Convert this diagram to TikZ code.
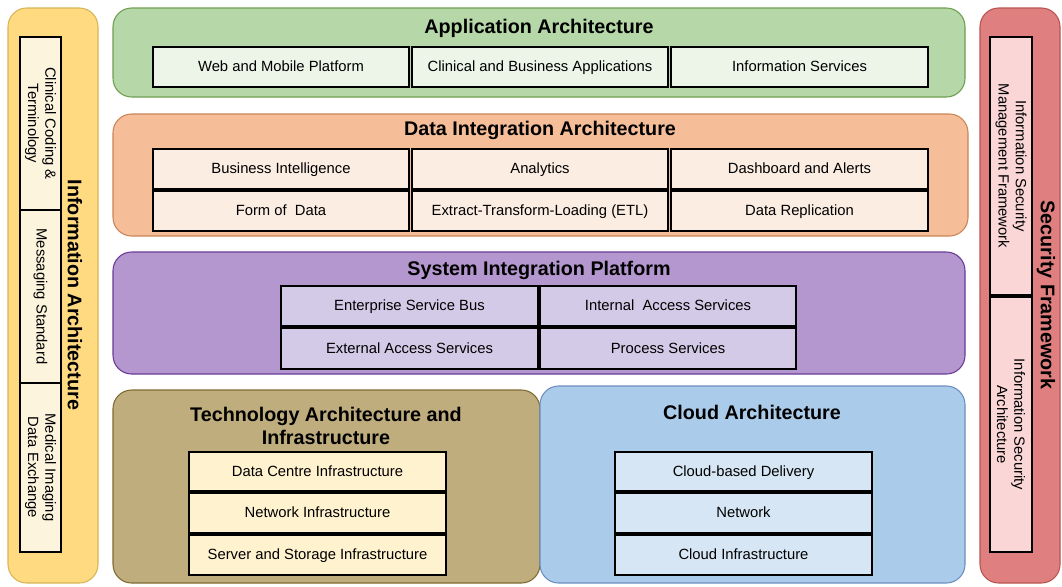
\documentclass[tikz,border=0pt]{standalone}
\usepackage{fontspec}
\setmainfont{Liberation Sans}
\definecolor{gfill}{HTML}{B6D7A8}\definecolor{gline}{HTML}{6E9E50}\definecolor{gin}{HTML}{EDF5E9}
\definecolor{ofill}{HTML}{F5BE98}\definecolor{oline}{HTML}{C98458}\definecolor{oin}{HTML}{FCEDE3}
\definecolor{pfill}{HTML}{B497CF}\definecolor{pline}{HTML}{6A3A96}\definecolor{pin}{HTML}{D2CAE6}
\definecolor{tfill}{HTML}{BFAD7E}\definecolor{tline}{HTML}{7F6A30}\definecolor{tin}{HTML}{FFF2CF}
\definecolor{cfill}{HTML}{AACBE9}\definecolor{cline}{HTML}{6C8EBF}\definecolor{cin}{HTML}{D6E6F4}
\definecolor{yfill}{HTML}{FFDA80}\definecolor{yline}{HTML}{D6B656}\definecolor{yin}{HTML}{FDF4DE}
\definecolor{rfill}{HTML}{E07F7F}\definecolor{rline}{HTML}{B85450}\definecolor{rin}{HTML}{FAD6D6}
\newcommand{\pbox}[7]{%
  \node[#6, minimum width={(#4-#2)*0.75pt}, minimum height={(#5-#3)*0.75pt}]
    (#1) at ({(#2+#4)/2},{(#3+#5)/2}) {#7};}
\tikzset{
  outer/.style={draw, line width=0.8pt, rounded corners=14pt, inner sep=0pt, outer sep=0pt},
  inner/.style={draw=black, line width=1.3pt, inner sep=0pt, outer sep=0pt, font=\fontsize{11.1}{13}\selectfont, align=center},
  one/.style={inner, text height=0.7em, text depth=0em},
  rot/.style={inner, draw=none, fill=none, rotate=-90},
  title/.style={font=\fontsize{14.8}{17.5}\selectfont\bfseries, align=center, inner sep=0pt},
}
\begin{document}
\begin{tikzpicture}[x=0.75pt,y=-0.75pt]
\useasboundingbox (0,0) rectangle (1062,586);
% outer containers
\pbox{app}{113}{8}{965}{97}{outer, draw=gline, fill=gfill}{}
\pbox{dat}{113}{114}{968}{236}{outer, draw=oline, fill=ofill}{}
\pbox{sys}{113}{252}{965}{374}{outer, draw=pline, fill=pfill}{}
\pbox{tec}{113}{390}{540}{583}{outer, draw=tline, fill=tfill}{}
\pbox{clo}{540}{386}{965}{583}{outer, draw=cline, fill=cfill}{}
\pbox{inf}{8}{8}{98}{583}{outer, draw=yline, fill=yfill}{}
\pbox{sec}{980}{8}{1060}{583}{outer, draw=rline, fill=rfill}{}
% titles
\node[title] (appT) at (539,28) {Application Architecture};
\node[title] (datT) at (540,130) {Data Integration Architecture};
\node[title] (sysT) at (539,270) {System Integration Platform};
\node[title] (tecT) at (326,426) {Technology Architecture and\\Infrastructure};
\node[title] (cloT) at (752,412) {Cloud Architecture};
\node[title, rotate=-90] (infT) at (75,295) {Information Architecture};
\node[title, rotate=-90] (secT) at (1046,295) {Security Framework};
% application
\pbox{a1}{153}{47}{409}{87}{one, fill=gin}{Web and Mobile Platform}
\pbox{a2}{412}{47}{668}{87}{one, fill=gin}{Clinical and Business Applications}
\pbox{a3}{671}{47}{928}{87}{one, fill=gin}{Information Services}
% data integration
\pbox{d1}{153}{149}{409}{189}{one, fill=oin}{Business Intelligence}
\pbox{d2}{412}{149}{668}{189}{one, fill=oin}{Analytics}
\pbox{d3}{671}{149}{928}{189}{one, fill=oin}{Dashboard and Alerts}
\pbox{d4}{153}{191}{409}{231}{one, fill=oin}{Form of~ Data}
\pbox{d5}{412}{191}{668}{231}{one, fill=oin}{Extract-Transform-Loading (ETL)}
\pbox{d6}{671}{191}{928}{231}{one, fill=oin}{Data Replication}
% system integration
\pbox{s1}{281}{286}{538}{326}{one, fill=pin}{Enterprise Service Bus}
\pbox{s2}{540}{286}{796}{326}{one, fill=pin}{Internal~ Access Services}
\pbox{s3}{281}{328}{538}{369}{one, fill=pin}{External Access Services}
\pbox{s4}{540}{328}{796}{369}{one, fill=pin}{Process Services}
% technology
\pbox{t1}{189}{452}{446}{491}{one, fill=tin}{Data Centre Infrastructure}
\pbox{t2}{189}{493}{446}{533}{one, fill=tin}{Network Infrastructure}
\pbox{t3}{189}{535}{446}{575}{one, fill=tin}{Server and Storage Infrastructure}
% cloud
\pbox{c1}{615}{452}{872}{491}{one, fill=cin}{Cloud-based Delivery}
\pbox{c2}{615}{493}{872}{533}{one, fill=cin}{Network}
\pbox{c3}{615}{535}{872}{575}{one, fill=cin}{Cloud Infrastructure}
% information architecture boxes
\pbox{i1}{20}{37}{61}{210}{inner, fill=yin}{}
\pbox{i2}{20}{210}{61}{383}{inner, fill=yin}{}
\pbox{i3}{20}{383}{61}{552}{inner, fill=yin}{}
\node[rot] (i1t) at (i1.center) {Clinical Coding \&\\Terminology};
\node[rot] (i2t) at (i2.center) {Messaging Standard};
\node[rot] (i3t) at (i3.center) {Medical Imaging\\Data Exchange};
% security boxes
\pbox{r1}{990}{37}{1032}{295}{inner, fill=rin}{}
\pbox{r2}{990}{297}{1032}{552}{inner, fill=rin}{}
\node[rot] (r1t) at (r1.center) {Information Security\\Management Framework};
\node[rot] (r2t) at (r2.center) {Information Security\\Architecture};
\end{tikzpicture}
\end{document}
